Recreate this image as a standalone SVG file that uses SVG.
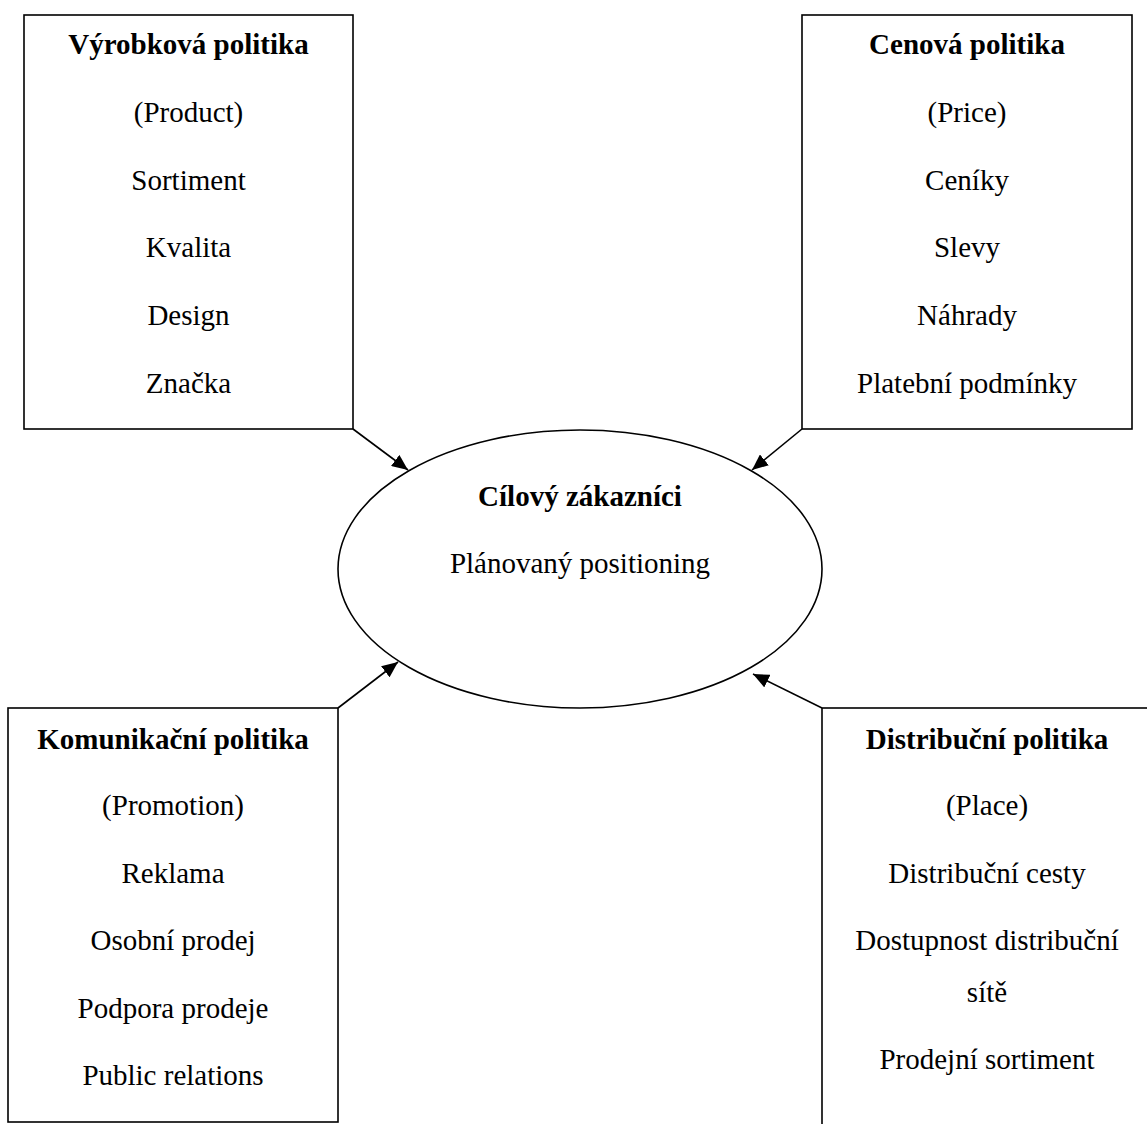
<svg xmlns="http://www.w3.org/2000/svg" width="1147" height="1124" viewBox="0 0 1147 1124">
  <style>
    .box { fill: #fff; stroke: #000; stroke-width: 1.6; }
    .t { font-family: "Liberation Serif", "Times New Roman", serif; font-size: 29px; fill: #000; text-anchor: middle; }
    .b { font-weight: bold; }
    .conn { stroke: #000; stroke-width: 1.6; fill: none; marker-end: url(#arrow); }
  </style>
  <defs>
    <marker id="arrow" markerUnits="userSpaceOnUse" markerWidth="16" markerHeight="14" viewBox="0 0 16 14" refX="16" refY="7" orient="auto">
      <path d="M0,0 L16,7 L0,14 Z" fill="#000"/>
    </marker>
  </defs>
  <rect width="1147" height="1124" fill="#fff"/>

  <!-- connectors: box corners to the target group -->
  <g id="connectors">
    <line class="conn" x1="353" y1="429" x2="408" y2="470"/>
    <line class="conn" x1="802" y1="429" x2="752" y2="470"/>
    <line class="conn" x1="338" y1="708" x2="398" y2="662"/>
    <line class="conn" x1="822" y1="708" x2="753" y2="674"/>
  </g>

  <g id="product">
    <rect class="box" x="24" y="15" width="329" height="414"/>
    <text class="t b" x="188.5" y="54">Výrobková politika</text>
    <text class="t" x="188.5" y="121.5">(Product)</text>
    <text class="t" x="188.5" y="190">Sortiment</text>
    <text class="t" x="188.5" y="257">Kvalita</text>
    <text class="t" x="188.5" y="325">Design</text>
    <text class="t" x="188.5" y="392.5">Značka</text>
  </g>

  <g id="price">
    <rect class="box" x="802" y="15" width="330" height="414"/>
    <text class="t b" x="967" y="54">Cenová politika</text>
    <text class="t" x="967" y="121.5">(Price)</text>
    <text class="t" x="967" y="190">Ceníky</text>
    <text class="t" x="967" y="257">Slevy</text>
    <text class="t" x="967" y="325">Náhrady</text>
    <text class="t" x="967" y="392.5">Platební podmínky</text>
  </g>

  <g id="customers">
    <ellipse class="box" cx="580" cy="569" rx="242" ry="139"/>
    <text class="t b" x="580" y="506">Cílový zákazníci</text>
    <text class="t" x="580" y="573">Plánovaný positioning</text>
  </g>

  <g id="promotion">
    <rect class="box" x="8" y="708" width="330" height="414"/>
    <text class="t b" x="173" y="748.5">Komunikační politika</text>
    <text class="t" x="173" y="815">(Promotion)</text>
    <text class="t" x="173" y="882.5">Reklama</text>
    <text class="t" x="173" y="950">Osobní prodej</text>
    <text class="t" x="173" y="1018">Podpora prodeje</text>
    <text class="t" x="173" y="1085">Public relations</text>
  </g>

  <g id="place">
    <rect class="box" x="822" y="708" width="340" height="430"/>
    <text class="t b" x="987" y="748.5">Distribuční politika</text>
    <text class="t" x="987" y="815">(Place)</text>
    <text class="t" x="987" y="882.5">Distribuční cesty</text>
    <text class="t" x="987" y="950">Dostupnost distribuční</text>
    <text class="t" x="987" y="1002">sítě</text>
    <text class="t" x="987" y="1069">Prodejní sortiment</text>
  </g>
</svg>
